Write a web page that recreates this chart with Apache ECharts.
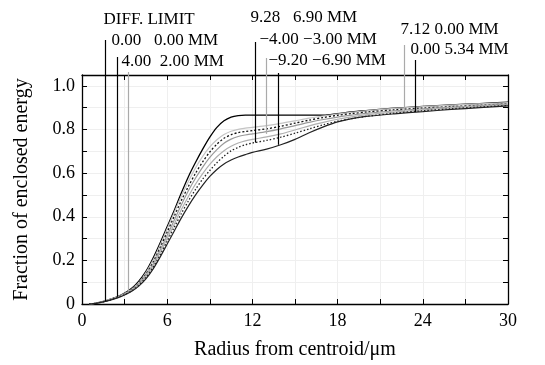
<!DOCTYPE html>
<html>
<head>
<meta charset="utf-8">
<script src="https://cdn.jsdelivr.net/npm/echarts@6/dist/echarts.min.js"></script>
<style>
html,body{margin:0;padding:0;background:#fff;}
#c{width:545px;height:365px;}
</style>
</head>
<body>
<div id="c"></div>
<script>
// ---- data ----
const radius = [0.5,1,1.5,2,2.5,3,3.5,4,4.5,5,5.5,6,6.5,7,7.5,8,8.5,9,9.5,10,10.5,11,11.5,12,13,14,15,16,17,18,19,20,22,24,26,28,30];
const diffLimit = [0,0.004,0.012,0.022,0.034,0.05,0.072,0.105,0.15,0.21,0.28,0.355,0.43,0.51,0.585,0.65,0.71,0.765,0.81,0.84,0.857,0.864,0.866,0.866,0.866,0.866,0.866,0.866,0.866,0.873,0.881,0.887,0.898,0.906,0.913,0.919,0.925];
const fieldB = [0,0.004,0.011,0.021,0.033,0.048,0.068,0.098,0.143,0.2,0.27,0.345,0.42,0.495,0.563,0.625,0.677,0.72,0.753,0.777,0.792,0.801,0.806,0.81,0.818,0.828,0.84,0.852,0.862,0.871,0.879,0.886,0.897,0.905,0.912,0.918,0.923];
const fieldC = [0,0.004,0.011,0.02,0.032,0.046,0.066,0.095,0.137,0.19,0.258,0.33,0.403,0.475,0.54,0.6,0.652,0.697,0.733,0.76,0.776,0.786,0.791,0.795,0.803,0.815,0.829,0.843,0.855,0.865,0.873,0.88,0.89,0.898,0.905,0.911,0.917];
const fieldD = [0,0.004,0.011,0.02,0.031,0.045,0.064,0.092,0.132,0.182,0.247,0.315,0.385,0.455,0.52,0.578,0.628,0.672,0.708,0.737,0.756,0.768,0.775,0.78,0.79,0.803,0.818,0.833,0.846,0.857,0.866,0.874,0.886,0.895,0.903,0.91,0.916];
const fieldE = [0,0.004,0.011,0.02,0.031,0.044,0.062,0.089,0.127,0.175,0.236,0.3,0.367,0.433,0.494,0.55,0.598,0.64,0.675,0.703,0.723,0.738,0.748,0.755,0.766,0.78,0.798,0.817,0.833,0.847,0.858,0.867,0.88,0.89,0.899,0.906,0.913];
const fieldF = [0,0.003,0.01,0.019,0.03,0.043,0.06,0.086,0.122,0.167,0.225,0.288,0.352,0.415,0.473,0.526,0.573,0.612,0.648,0.678,0.702,0.718,0.73,0.738,0.75,0.765,0.783,0.803,0.822,0.838,0.85,0.86,0.875,0.886,0.895,0.903,0.91];
const fieldG = [0,0.003,0.01,0.018,0.028,0.041,0.058,0.082,0.115,0.16,0.215,0.275,0.335,0.395,0.45,0.5,0.545,0.585,0.617,0.642,0.66,0.674,0.685,0.695,0.71,0.73,0.755,0.785,0.812,0.835,0.85,0.86,0.872,0.882,0.892,0.9,0.908];

const markerLabels = ['DIFF. LIMIT','0.00   0.00 MM','4.00  2.00 MM','9.28   6.90 MM','\u22124.00 \u22123.00 MM','\u22129.20 \u22126.90 MM','7.12 0.00 MM','0.00 5.34 MM'];
const markerX = [1.62,2.46,3.24,12.18,12.96,13.8,22.7,23.45];
const markerY = [0.013,0.033,0.058,0.74,0.78,0.73,0.885,0.88];

const xTicks = [0,6,12,18,24,30];

// ---- styles ----
const markerColor = ['#000','#000','#aaa','#000','#aaa','#000','#aaa','#000'];
const markerTop = [40,57,72,42,58,73,45,60];
const labelDx = [-2,-6,-7,-5,-7,-10,-4,-5];
const labelY = [20,41,62,18,40,61,30,50];
const FONT = '"Liberation Serif","Times New Roman",serif';

const curveDefs = [
  {name:'DIFF. LIMIT', data: diffLimit, color:'#000', type:'solid', width:1.3},
  {name:'B', data: fieldB, color:'#c4c4c4', type:'solid', width:1.2},
  {name:'C', data: fieldC, color:'#111', type:[2,2], width:1.3},
  {name:'D', data: fieldD, color:'#999', type:'solid', width:1.2},
  {name:'E', data: fieldE, color:'#b0b0b0', type:'solid', width:1.2},
  {name:'F', data: fieldF, color:'#222', type:[1.5,2], width:1.3},
  {name:'G', data: fieldG, color:'#222', type:'solid', width:1.2}
];

const chart = echarts.init(document.getElementById('c'), null, {renderer:'canvas'});

const series = curveDefs.map(c => ({
  name: c.name, type:'line', symbol:'none', smooth:0.3,
  xAxisIndex:0, yAxisIndex:0,
  data: radius.map((r,i)=>[r, c.data[i]]),
  lineStyle:{color:c.color, width:c.width, type:c.type},
  z: 3
}));

series.push({
  type:'custom', coordinateSystem:'cartesian2d', clip:false, z:5,
  xAxisIndex:0, yAxisIndex:0,
  data: markerX.map((x,i)=>[x, markerY[i], i]),
  renderItem: function(params, api){
    const i = api.value(2);
    const p = api.coord([api.value(0), api.value(1)]);
    const lx = Math.round(p[0]) + 0.5;
    return {type:'group', children:[
      {type:'line', shape:{x1:lx, y1:p[1], x2:lx, y2:markerTop[i]}, style:{stroke:markerColor[i], lineWidth:1.2}},
      {type:'text', style:{text:markerLabels[i], x:lx+labelDx[i], y:labelY[i], verticalAlign:'middle', align:'left', font:'17px ' + FONT, fill:'#000'}}
    ]};
  }
});

function axisCommon(){
  return {
    axisLine:{show:true, onZero:false, lineStyle:{color:'#000', width:1.3}},
    axisTick:{show:true, inside:true, length:5, lineStyle:{color:'#000'}}
  };
}

chart.setOption({
  animation:false,
  backgroundColor:'#fff',
  grid:{left:82, right:37, top:75, bottom:61},
  xAxis:[
    Object.assign({
      type:'value', min:0, max:30, interval:3, position:'bottom',
      axisLabel:{color:'#000', fontSize:18, fontFamily:FONT, margin:8,
        formatter: v => xTicks.indexOf(v) >= 0 ? String(v) : ''},
      splitLine:{show:true, lineStyle:{color:'#efefef', width:1}},
      name:'Radius from centroid/\u03bcm', nameLocation:'middle', nameGap:36,
      nameTextStyle:{color:'#000', fontSize:20, fontFamily:FONT}
    }, axisCommon()),
    Object.assign({
      type:'value', min:0, max:30, interval:3, position:'top',
      axisLabel:{show:false}, splitLine:{show:false}
    }, axisCommon())
  ],
  yAxis:[
    Object.assign({
      type:'value', min:0, max:1.05, interval:0.1, position:'left',
      axisLabel:{color:'#000', fontSize:18, fontFamily:FONT, margin:7,
        formatter: v => { const k = Math.round(v*10); if (k % 2 !== 0) return ''; return k === 0 ? '0' : (k/10).toFixed(1); }},
      splitLine:{show:true, lineStyle:{color:'#efefef', width:1}},
      name:'Fraction of enclosed energy', nameLocation:'middle', nameGap:50,
      nameTextStyle:{color:'#000', fontSize:20, fontFamily:FONT}
    }, axisCommon()),
    Object.assign({
      type:'value', min:0, max:1.05, interval:0.1, position:'right',
      axisLabel:{show:false}, splitLine:{show:false}
    }, axisCommon())
  ],
  series: series
});
</script>
</body>
</html>
